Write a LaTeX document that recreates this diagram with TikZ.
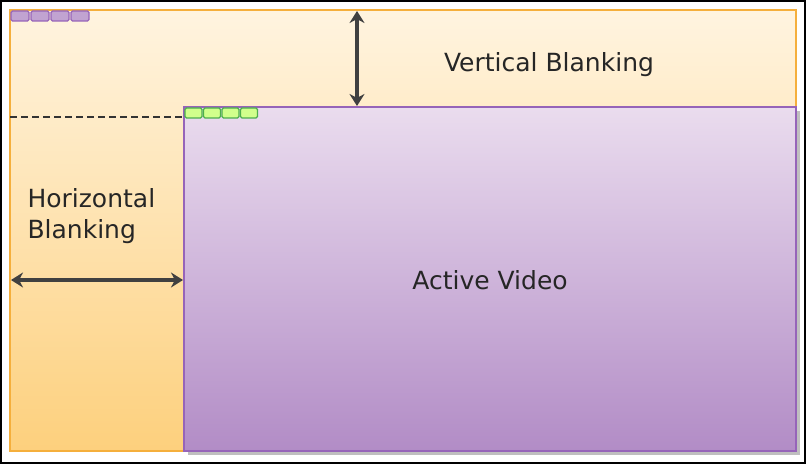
\documentclass[tikz,border=0pt]{standalone}
\usepackage{fontspec}
\setmainfont{DejaVu Sans}
\usetikzlibrary{arrows.meta}
\definecolor{otop}{RGB}{255,244,224}
\definecolor{obot}{RGB}{253,208,125}
\definecolor{oline}{RGB}{245,175,60}
\definecolor{ptop}{RGB}{234,220,238}
\definecolor{pbot}{RGB}{178,140,198}
\definecolor{pline}{RGB}{150,100,185}
\begin{document}
\begin{tikzpicture}[x=1pt,y=-1pt,
  lbl/.style={font=\fontsize{25}{31}\selectfont, text=black!85},
  arr/.style={line width=3.2pt, draw=black!75, {Stealth[length=12pt,width=15pt]}-{Stealth[length=12pt,width=15pt]}},
  pbox/.style={draw=pline, fill=pbot!80, rounded corners=1.5pt, line width=1.2pt},
  gbox/.style={draw=green!55!black!70, fill=green!40!yellow!45, rounded corners=1.5pt, line width=1.2pt}]
\useasboundingbox (0,0) rectangle (806,465);
\draw[line width=1.5pt] (1,1) rectangle (805,463);
\shade[top color=otop, bottom color=obot] (10,10) rectangle (796,451);
\draw[draw=oline, line width=1.5pt] (10,10) rectangle (796,451);
\fill[black!25] (188,111) rectangle (800,455);
\shade[top color=ptop, bottom color=pbot] (184,107) rectangle (796,451);
\draw[draw=pline, line width=1.5pt] (184,107) rectangle (796,451);
\foreach \i in {0,1,2,3} {
  \draw[pbox] (11+\i*20,11) rectangle (29+\i*20,21);
  \draw[gbox] (185+\i*18.5,108) rectangle (202+\i*18.5,118);
}
\coordinate (dl) at (10,117);
\coordinate (dr) at (185,117);
\draw[line width=2pt, black!80, dash pattern=on 7pt off 4pt] (dl) -- (dr);
\coordinate (vt) at (357,11);
\coordinate (vb) at (357,106);
\draw[arr] (vt) -- (vb);
\coordinate (hl) at (11,280);
\coordinate (hr) at (183,280);
\draw[arr] (hl) -- (hr);
\node[lbl] (vbl) at (549,65) {Vertical Blanking};
\node[lbl, anchor=west, align=left] (hbl) at (24,216) {Horizontal\\Blanking};
\node[lbl] (av) at (490,280) {Active Video};
\end{tikzpicture}
\end{document}
